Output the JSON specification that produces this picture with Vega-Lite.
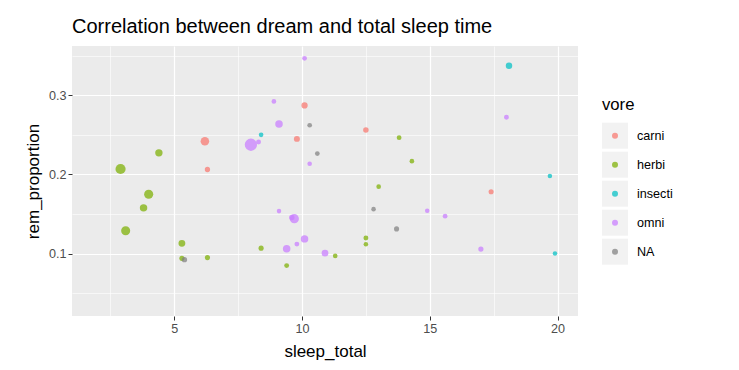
{
  "$schema": "https://vega.github.io/schema/vega-lite/v6.json",
  "width": 506,
  "height": 270,
  "autosize": {"type": "none"},
  "padding": {"left": 72, "top": 46, "right": 161, "bottom": 54},
  "background": "white",
  "title": {
    "text": "Correlation between dream and total sleep time",
    "anchor": "start",
    "frame": "group",
    "font": "Liberation Sans",
    "fontSize": 20,
    "fontWeight": "normal",
    "color": "#000000",
    "offset": 9
  },
  "config": {
    "view": {"fill": "#EBEBEB", "stroke": null},
    "font": "Liberation Sans",
    "axis": {
      "domain": false,
      "gridColor": "#FFFFFF",
      "tickColor": "#333333",
      "tickSize": 4,
      "tickWidth": 1,
      "labelColor": "#4D4D4D",
      "labelFontSize": 12.6,
      "labelFont": "Liberation Sans",
      "titleFont": "Liberation Sans",
      "titleFontSize": 17,
      "titleFontWeight": "normal",
      "titleColor": "#000000",
      "labelPadding": 2
    },
    "legend": {
      "orient": "none",
      "padding": 0,
      "titleFont": "Liberation Sans",
      "titleFontSize": 16.7,
      "titleFontWeight": "normal",
      "titleColor": "#000000",
      "titlePadding": 9,
      "labelFont": "Liberation Sans",
      "labelColor": "#000000",
      "rowPadding": 3
    }
  },
  "data": {
    "values": [
      {"name": "Owl monkey", "vore": "omni", "sleep_total": 17.0, "rem_proportion": 0.1059, "brainwt": 0.0155},
      {"name": "Greater short-tailed shrew", "vore": "omni", "sleep_total": 14.9, "rem_proportion": 0.1544, "brainwt": 0.00029},
      {"name": "Cow", "vore": "herbi", "sleep_total": 4.0, "rem_proportion": 0.175, "brainwt": 0.423},
      {"name": "Dog", "vore": "carni", "sleep_total": 10.1, "rem_proportion": 0.2871, "brainwt": 0.07},
      {"name": "Goat", "vore": "herbi", "sleep_total": 5.3, "rem_proportion": 0.1132, "brainwt": 0.115},
      {"name": "Guinea pig", "vore": "herbi", "sleep_total": 9.4, "rem_proportion": 0.0851, "brainwt": 0.0055},
      {"name": "Chinchilla", "vore": "herbi", "sleep_total": 12.5, "rem_proportion": 0.12, "brainwt": 0.0064},
      {"name": "Star-nosed mole", "vore": "omni", "sleep_total": 10.3, "rem_proportion": 0.2136, "brainwt": 0.001},
      {"name": "African giant pouched rat", "vore": "omni", "sleep_total": 8.3, "rem_proportion": 0.241, "brainwt": 0.0066},
      {"name": "Lesser short-tailed shrew", "vore": "omni", "sleep_total": 9.1, "rem_proportion": 0.1538, "brainwt": 0.00014},
      {"name": "Long-nosed armadillo", "vore": "carni", "sleep_total": 17.4, "rem_proportion": 0.1782, "brainwt": 0.0108},
      {"name": "Tree hyrax", "vore": "herbi", "sleep_total": 5.3, "rem_proportion": 0.0943, "brainwt": 0.0123},
      {"name": "North American Opossum", "vore": "omni", "sleep_total": 18.0, "rem_proportion": 0.2722, "brainwt": 0.0063},
      {"name": "Big brown bat", "vore": "insecti", "sleep_total": 19.7, "rem_proportion": 0.198, "brainwt": 0.0003},
      {"name": "Horse", "vore": "herbi", "sleep_total": 2.9, "rem_proportion": 0.2069, "brainwt": 0.655},
      {"name": "Donkey", "vore": "herbi", "sleep_total": 3.1, "rem_proportion": 0.129, "brainwt": 0.419},
      {"name": "European hedgehog", "vore": "omni", "sleep_total": 10.1, "rem_proportion": 0.3465, "brainwt": 0.0035},
      {"name": "Patas monkey", "vore": "omni", "sleep_total": 10.9, "rem_proportion": 0.1009, "brainwt": 0.115},
      {"name": "Domestic cat", "vore": "carni", "sleep_total": 12.5, "rem_proportion": 0.256, "brainwt": 0.0256},
      {"name": "Galago", "vore": "omni", "sleep_total": 9.8, "rem_proportion": 0.1122, "brainwt": 0.005},
      {"name": "Gray seal", "vore": "carni", "sleep_total": 6.2, "rem_proportion": 0.2419, "brainwt": 0.325},
      {"name": "Gray hyrax", "vore": "herbi", "sleep_total": 6.3, "rem_proportion": 0.0952, "brainwt": 0.01227},
      {"name": "Human", "vore": "omni", "sleep_total": 8.0, "rem_proportion": 0.2375, "brainwt": 1.32},
      {"name": "Macaque", "vore": "omni", "sleep_total": 10.1, "rem_proportion": 0.1188, "brainwt": 0.179},
      {"name": "Golden hamster", "vore": "herbi", "sleep_total": 14.3, "rem_proportion": 0.2168, "brainwt": 0.001},
      {"name": "House mouse", "vore": "herbi", "sleep_total": 12.5, "rem_proportion": 0.112, "brainwt": 0.0004},
      {"name": "Little brown bat", "vore": "insecti", "sleep_total": 19.9, "rem_proportion": 0.1005, "brainwt": 0.00025},
      {"name": "Rabbit", "vore": "herbi", "sleep_total": 8.4, "rem_proportion": 0.1071, "brainwt": 0.0121},
      {"name": "Sheep", "vore": "herbi", "sleep_total": 3.8, "rem_proportion": 0.1579, "brainwt": 0.175},
      {"name": "Chimpanzee", "vore": "omni", "sleep_total": 9.7, "rem_proportion": 0.1443, "brainwt": 0.44},
      {"name": "Baboon", "vore": "omni", "sleep_total": 9.4, "rem_proportion": 0.1064, "brainwt": 0.18},
      {"name": "Desert hedgehog", "vore": "NA", "sleep_total": 10.3, "rem_proportion": 0.2621, "brainwt": 0.0024},
      {"name": "Phalanger", "vore": "NA", "sleep_total": 13.7, "rem_proportion": 0.1314, "brainwt": 0.0114},
      {"name": "Giant armadillo", "vore": "insecti", "sleep_total": 18.1, "rem_proportion": 0.337, "brainwt": 0.081},
      {"name": "Rock hyrax", "vore": "NA", "sleep_total": 5.4, "rem_proportion": 0.0926, "brainwt": 0.021},
      {"name": "Laboratory rat", "vore": "herbi", "sleep_total": 13.0, "rem_proportion": 0.1846, "brainwt": 0.0019},
      {"name": "Squirrel monkey", "vore": "omni", "sleep_total": 9.6, "rem_proportion": 0.1458, "brainwt": 0.02},
      {"name": "Eastern american mole", "vore": "insecti", "sleep_total": 8.4, "rem_proportion": 0.25, "brainwt": 0.0012},
      {"name": "Cotton rat", "vore": "herbi", "sleep_total": 11.3, "rem_proportion": 0.0973, "brainwt": 0.00118},
      {"name": "Mole rat", "vore": "NA", "sleep_total": 10.6, "rem_proportion": 0.2264, "brainwt": 0.003},
      {"name": "Thirteen-lined ground squirrel", "vore": "herbi", "sleep_total": 13.8, "rem_proportion": 0.2464, "brainwt": 0.004},
      {"name": "Musk shrew", "vore": "NA", "sleep_total": 12.8, "rem_proportion": 0.1563, "brainwt": 0.00033},
      {"name": "Pig", "vore": "omni", "sleep_total": 9.1, "rem_proportion": 0.2637, "brainwt": 0.18},
      {"name": "Brazilian tapir", "vore": "herbi", "sleep_total": 4.4, "rem_proportion": 0.2273, "brainwt": 0.169},
      {"name": "Tenrec", "vore": "omni", "sleep_total": 15.6, "rem_proportion": 0.1474, "brainwt": 0.0026},
      {"name": "Tree shrew", "vore": "omni", "sleep_total": 8.9, "rem_proportion": 0.2921, "brainwt": 0.0025},
      {"name": "Genet", "vore": "carni", "sleep_total": 6.3, "rem_proportion": 0.2063, "brainwt": 0.0175},
      {"name": "Red fox", "vore": "carni", "sleep_total": 9.8, "rem_proportion": 0.2449, "brainwt": 0.0504}
    ]
  },
  "encoding": {
    "x": {
      "field": "sleep_total",
      "type": "quantitative",
      "title": "sleep_total",
      "scale": {"domain": [1.0, 20.8], "nice": false, "zero": false},
      "axis": {
        "values": [2.5, 5, 7.5, 10, 12.5, 15, 17.5, 20],
        "labelExpr": "datum.value % 5 === 0 ? datum.label : ''",
        "format": "d",
        "titlePadding": 9,
        "gridWidth": {"condition": {"test": "datum.value % 5 === 0", "value": 1.2}, "value": 0.6},
        "tickOpacity": {"condition": {"test": "datum.value % 5 === 0", "value": 1}, "value": 0}
      }
    },
    "y": {
      "field": "rem_proportion",
      "type": "quantitative",
      "title": "rem_proportion",
      "scale": {"domain": [0.02156, 0.36201], "nice": false, "zero": false},
      "axis": {
        "values": [0.05, 0.1, 0.15, 0.2, 0.25, 0.3, 0.35],
        "format": ".1f",
        "labelExpr": "abs(datum.value * 10 - round(datum.value * 10)) < 0.001 ? datum.label : ''",
        "titlePadding": 6,
        "gridWidth": {"condition": {"test": "abs(datum.value * 10 - round(datum.value * 10)) < 0.001", "value": 1.2}, "value": 0.6},
        "tickOpacity": {"condition": {"test": "abs(datum.value * 10 - round(datum.value * 10)) < 0.001", "value": 1}, "value": 0}
      }
    }
  },
  "layer": [
    {
      "mark": {"type": "point", "filled": true, "color": "#F2F2F2", "opacity": 0},
      "encoding": {
        "shape": {
          "field": "vore",
          "type": "nominal",
          "sort": ["carni", "herbi", "insecti", "omni", "NA"],
          "scale": {"range": ["square", "square", "square", "square", "square"]},
          "legend": {
            "title": "vore",
            "orient": "none",
            "legendX": 530,
            "legendY": 51,
            "symbolType": "square",
            "symbolSize": 676,
            "symbolFillColor": "#F2F2F2",
            "symbolStrokeWidth": 0,
            "symbolOpacity": 1,
            "labelFontSize": 12.6,
            "labelOffset": 9
          }
        }
      }
    },
    {
      "mark": {"type": "point", "filled": true, "opacity": 0.72, "strokeWidth": 0},
      "encoding": {
        "color": {
          "field": "vore",
          "type": "nominal",
          "scale": {
            "domain": ["carni", "herbi", "insecti", "omni", "NA"],
            "range": ["#F8766D", "#7CAE00", "#00BFC4", "#C77CFF", "#7F7F7F"]
          },
          "legend": {
            "title": "vore",
            "orient": "none",
            "legendX": 530,
            "legendY": 51,
            "titleOpacity": 0,
            "symbolType": "circle",
            "symbolSize": 36,
            "symbolStrokeWidth": 0,
            "labelFontSize": 26,
            "labelOpacity": 0,
            "labelExpr": "' '"
          }
        },
        "size": {
          "field": "brainwt",
          "type": "quantitative",
          "scale": {"type": "pow", "exponent": 0.65, "domain": [0, 5.712], "range": [20, 360]},
          "legend": null
        }
      }
    }
  ]
}
